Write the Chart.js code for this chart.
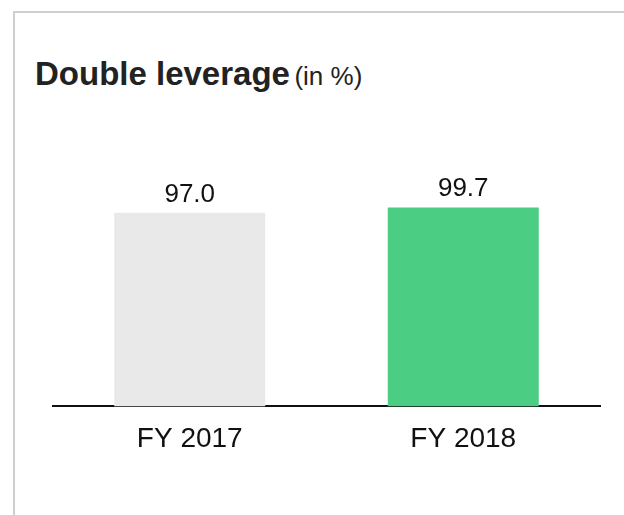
<!DOCTYPE html>
<html>
<head>
<meta charset="utf-8">
<script src="https://cdn.jsdelivr.net/npm/chart.js@4"></script>
<style>
  html, body { margin: 0; padding: 0; background: #fff; }
  #wrap { position: relative; width: 624px; height: 515px; overflow: hidden; }
  #frame { position: absolute; left: 13px; top: 11px; right: -10px; bottom: -10px;
           border-left: 2px solid #cfcfcf; border-top: 2px solid #cfcfcf; }
  #title { position: absolute; left: 35px; top: 57px; font-family: "Liberation Sans", Arial, sans-serif;
           color: #222; white-space: nowrap; line-height: 1; }
  #title b { font-size: 33px; font-weight: bold; }
  #title span { font-size: 26px; }
  canvas { position: absolute; left: 0; top: 0; }
</style>
</head>
<body>
<div id="wrap">
  <div id="frame"></div>
  <div id="title"><b>Double leverage</b> <span>(in %)</span></div>
  <canvas id="c" width="624" height="515"></canvas>
</div>
<script>
const categories = ["FY 2017", "FY 2018"];
const values = [97.0, 99.7];
const barColors = ["#e9e9e9", "#4bcd84"];

const valueLabels = {
  id: 'valueLabels',
  afterDatasetsDraw(chart) {
    const ctx = chart.ctx;
    const meta = chart.getDatasetMeta(0);
    ctx.save();
    ctx.font = '26px "Liberation Sans", Arial, sans-serif';
    ctx.fillStyle = '#111';
    ctx.textAlign = 'center';
    ctx.textBaseline = 'alphabetic';
    meta.data.forEach((bar, i) => {
      ctx.fillText(values[i].toFixed(1), bar.x, bar.y - 11);
    });
    ctx.restore();
  }
};

new Chart(document.getElementById('c'), {
  type: 'bar',
  data: {
    labels: categories,
    datasets: [{ data: values, backgroundColor: barColors, borderWidth: 0,
                 barPercentage: 0.552, categoryPercentage: 1.0 }]
  },
  options: {
    responsive: false,
    animation: false,
    events: [],
    layout: { padding: { left: 53, right: 24, top: 127, bottom: 43 } },
    plugins: { legend: { display: false }, title: { display: false }, tooltip: { enabled: false } },
    scales: {
      x: {
        grid: { display: false, drawTicks: false },
        border: { display: true, color: '#111', width: 2 },
        ticks: { color: '#111', padding: 16, font: { family: '"Liberation Sans", Arial, sans-serif', size: 28 } }
      },
      y: { display: false, min: 0, max: 140 }
    }
  },
  plugins: [valueLabels]
});
</script>
</body>
</html>
